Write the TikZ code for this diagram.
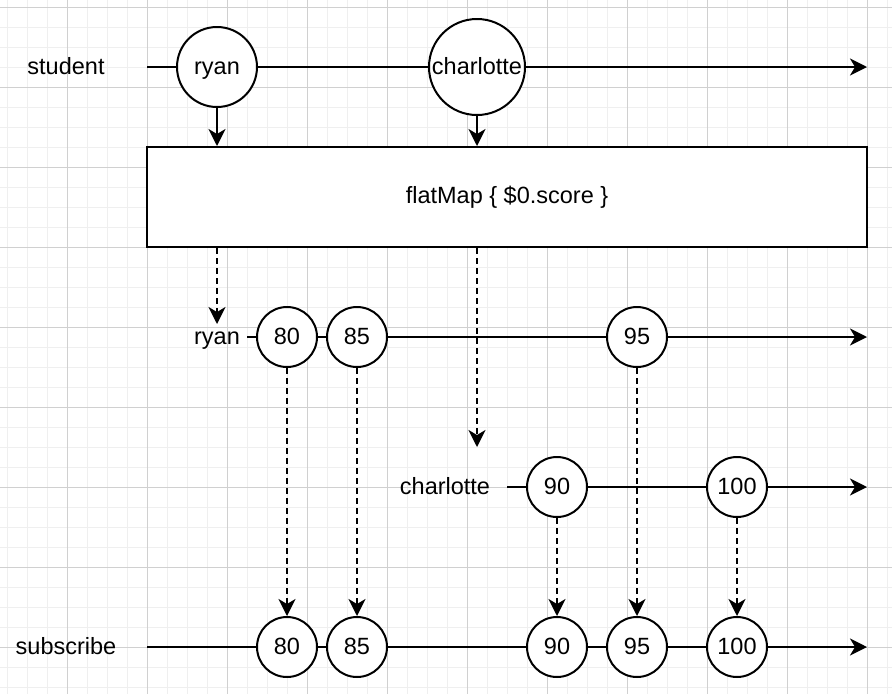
\documentclass[tikz,border=0pt]{standalone}
\usepackage{fontspec}
\setmainfont{Liberation Sans}
\usetikzlibrary{arrows.meta}
\definecolor{grillefine}{HTML}{EFEFEF}
\definecolor{grille}{HTML}{D0D0D0}

\begin{document}
\begin{tikzpicture}[x=1pt,y=-1pt,line width=2pt,font=\fontsize{23.5}{28}\selectfont]
  \tikzstyle{fleche}=[-{Stealth[length=17pt,width=17pt,inset=5pt]}]
  \tikzstyle{pointille}=[fleche,dash pattern=on 6pt off 4pt]
  \tikzstyle{bille}=[draw,circle,fill=white,inner sep=0pt,minimum size=60pt,text height=19pt,text depth=5pt]
  \tikzstyle{etiquette}=[inner sep=0pt,text height=19pt,text depth=5pt]
  \useasboundingbox (0,0) rectangle (892,694);
  % grille de fond
  \foreach \x in {7,27,...,887} \draw[grillefine,line width=1pt] (\x,0) -- (\x,694);
  \foreach \y in {7,27,...,687} \draw[grillefine,line width=1pt] (0,\y) -- (892,\y);
  \foreach \x in {67,147,...,867} \draw[grille,line width=1pt] (\x,0) -- (\x,694);
  \foreach \y in {7,87,...,647} \draw[grille,line width=1pt] (0,\y) -- (892,\y);
  % flux des eleves
  \node[etiquette] (student) at (66,67) {student};
  \node[bille,minimum size=80pt] (s1) at (217,67) {ryan};
  \node[bille,minimum size=96pt] (s2) at (477,67) {charlotte};
  \coordinate (st0) at (147,67);
  \coordinate (st1) at (867,67);
  \draw[fleche] (st0) -- (s1) -- (s2) -- (st1);
  \node[draw,fill=white,minimum width=720pt,minimum height=100pt] (fm) at (507,197) {flatMap \{ \$0.score \}};
  \draw[fleche] (s1) -- (s1 |- fm.north);
  \draw[fleche] (s2) -- (s2 |- fm.north);
  % flux de ryan
  \node[etiquette] (ryan) at (217,337) {ryan};
  \coordinate (r0) at (247,337);
  \node[bille] (r1) at (287,337) {80};
  \node[bille] (r2) at (357,337) {85};
  \node[bille] (r3) at (637,337) {95};
  \coordinate (r4) at (867,337);
  \draw[fleche] (r0) -- (r1) -- (r2) -- (r3) -- (r4);
  \draw[pointille] (fm.south -| ryan) -- (ryan);
  % flux de charlotte
  \node[etiquette] (charlotte) at (445,487) {charlotte};
  \coordinate (c0) at (507,487);
  \node[bille] (c1) at (557,487) {90};
  \node[bille] (c2) at (737,487) {100};
  \coordinate (c3) at (867,487);
  \draw[fleche] (c0) -- (c1) -- (c2) -- (c3);
  \coordinate (cb) at (477,447);
  \draw[pointille] (fm.south -| cb) -- (cb);
  % abonnement
  \node[etiquette] (subscribe) at (66,647) {subscribe};
  \coordinate (b0) at (147,647);
  \node[bille] (b1) at (287,647) {80};
  \node[bille] (b2) at (357,647) {85};
  \node[bille] (b3) at (557,647) {90};
  \node[bille] (b4) at (637,647) {95};
  \node[bille] (b5) at (737,647) {100};
  \coordinate (b6) at (867,647);
  \draw[fleche] (b0) -- (b1) -- (b2) -- (b3) -- (b4) -- (b5) -- (b6);
  \foreach \a/\b in {r1/b1,r2/b2,c1/b3,r3/b4,c2/b5}
    \draw[pointille] (\a) -- (\b);
\end{tikzpicture}
\end{document}
